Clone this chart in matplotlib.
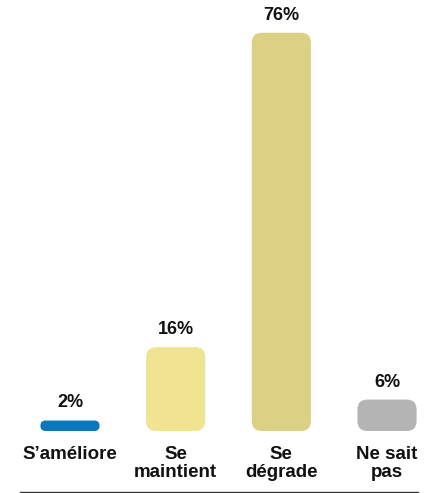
import matplotlib
matplotlib.use('Agg')
import matplotlib.pyplot as plt
from matplotlib.patches import FancyBboxPatch
from matplotlib.lines import Line2D

# data
categories = ['S\u2019améliore', 'Se\nmaintient', 'Se\ndégrade', 'Ne sait\npas']
values = [2, 16, 76, 6]
colors = ['#0b77bd', '#f0e391', '#dbd084', '#b4b4b5']

plt.rcParams['font.family'] = ['Liberation Sans', 'DejaVu Sans']

W, H = 430, 493
fig = plt.figure(figsize=(W / 100, H / 100), dpi=100)

# axes placed in pixels: bar base at 62 px from bottom
ax = fig.add_axes([0, 62 / H, 1, (H - 62) / H])
px_x = 105.67   # pixels per category
px_y = 5.24     # pixels per percent
ax.set_xlim(-70 / px_x, (W - 70) / px_x)
ax.set_ylim(0, (H - 62) / px_y)
ax.axis('off')

bar_w = 0.56
for i, (v, c) in enumerate(zip(values, colors)):
    h_px = v * px_y
    r_px = min(10, h_px / 2)
    r = r_px / px_x
    box = FancyBboxPatch((i - bar_w / 2 + r, r_px / px_y), bar_w - 2 * r, v - 2 * r_px / px_y,
                         boxstyle=f'round,pad={r},rounding_size={r}',
                         mutation_aspect=px_x / px_y,
                         facecolor=c, edgecolor='none')
    ax.add_patch(box)
    ax.annotate(f'{v}%', (i, v), xytext=(0, 6.5), textcoords='offset points',
                ha='center', va='bottom', fontsize=13, fontweight='bold', color='#111111')
    ax.annotate(categories[i], (i, 0), xytext=(0, -11), textcoords='offset points',
                ha='center', va='top', fontsize=13.5, fontweight='bold', color='#111111',
                linespacing=1.02, annotation_clip=False)

fig.add_artist(Line2D([20 / W, 418 / W], [1.5 / H, 1.5 / H], color='#333333', lw=1))

fig.savefig('out.png', dpi=100, facecolor='white')
